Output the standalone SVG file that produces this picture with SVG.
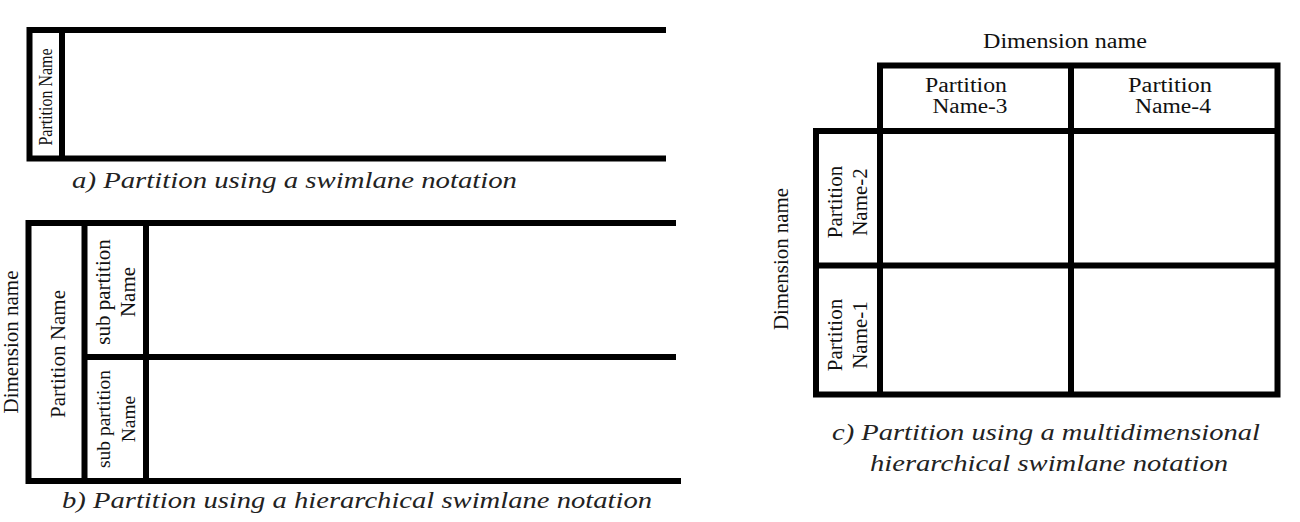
<svg xmlns="http://www.w3.org/2000/svg" width="1300" height="522" viewBox="0 0 1300 522">
<style>
.ln{fill:none;stroke:#000;stroke-width:6;stroke-linejoin:miter;stroke-linecap:butt}
.t{font-family:"Liberation Serif","Times New Roman",serif;fill:#111;text-anchor:middle}
.cap{font-family:"Liberation Serif","Times New Roman",serif;font-style:italic;fill:#222;font-size:24px}
</style>
<rect width="1300" height="522" fill="#fff"/>
<g id="connectors">
  <path class="ln" d="M666,30 H29.5 V158.5 H666"/>
  <path class="ln" d="M62,30 V158.5"/>
  <path class="ln" d="M676,223 H28.5 V481 H681"/>
  <path class="ln" d="M84.5,223 V481"/>
  <path class="ln" d="M146,223 V481"/>
  <path class="ln" d="M84.5,357 H676"/>
  <path class="ln" d="M880,65.5 H1277.5 V394.5 H816 V131 H880 Z"/>
  <path class="ln" d="M880,65.5 V394.5"/>
  <path class="ln" d="M1071,65.5 V394.5"/>
  <path class="ln" d="M816,131 H1277.5"/>
  <path class="ln" d="M816,265.5 H1277.5"/>
</g>
<g id="a-partition">
  <text class="t" font-size="19" textLength="97" lengthAdjust="spacingAndGlyphs" transform="translate(51.5,97) rotate(-90)">Partition Name</text>
</g>
<g id="a-caption">
  <text class="cap" x="72" y="188" textLength="445" lengthAdjust="spacingAndGlyphs">a) Partition using a swimlane notation</text>
</g>
<g id="b-dimension">
  <text class="t" font-size="21" textLength="143" lengthAdjust="spacingAndGlyphs" transform="translate(17.5,342) rotate(-90)">Dimension name</text>
</g>
<g id="b-partition">
  <text class="t" font-size="21" textLength="128" lengthAdjust="spacingAndGlyphs" transform="translate(64.5,354) rotate(-90)">Partition Name</text>
</g>
<g id="b-sub1">
  <text class="t" font-size="21" transform="translate(110,292) rotate(-90)"><tspan x="0" y="0">sub partition</tspan><tspan x="0" y="25">Name</tspan></text>
</g>
<g id="b-sub2">
  <text class="t" font-size="19.5" transform="translate(110,419) rotate(-90)"><tspan x="0" y="0">sub partition</tspan><tspan x="0" y="25">Name</tspan></text>
</g>
<g id="b-caption">
  <text class="cap" x="62" y="508" textLength="590" lengthAdjust="spacingAndGlyphs">b) Partition using a hierarchical swimlane notation</text>
</g>
<g id="c-dimension-top">
  <text class="t" font-size="20" x="1065" y="48" textLength="164" lengthAdjust="spacingAndGlyphs">Dimension name</text>
</g>
<g id="c-dimension-left">
  <text class="t" font-size="21" textLength="142" lengthAdjust="spacingAndGlyphs" transform="translate(788,259) rotate(-90)">Dimension name</text>
</g>
<g id="c-name3">
  <text class="t" font-size="20" x="966" y="91.5" textLength="82" lengthAdjust="spacingAndGlyphs">Partition</text>
  <text class="t" font-size="20" x="970" y="113" textLength="75" lengthAdjust="spacingAndGlyphs">Name-3</text>
</g>
<g id="c-name4">
  <text class="t" font-size="20" x="1170" y="91.5" textLength="84" lengthAdjust="spacingAndGlyphs">Partition</text>
  <text class="t" font-size="20" x="1173" y="113" textLength="76" lengthAdjust="spacingAndGlyphs">Name-4</text>
</g>
<g id="c-name2">
  <text class="t" font-size="21" transform="translate(842,202) rotate(-90)"><tspan x="0" y="0">Partition</tspan><tspan x="0" y="25">Name-2</tspan></text>
</g>
<g id="c-name1">
  <text class="t" font-size="21" transform="translate(842,335) rotate(-90)"><tspan x="0" y="0">Partition</tspan><tspan x="0" y="25">Name-1</tspan></text>
</g>
<g id="c-caption">
  <text class="cap" x="832" y="440" textLength="428" lengthAdjust="spacingAndGlyphs">c) Partition using a multidimensional</text>
  <text class="cap" x="870" y="471" textLength="358" lengthAdjust="spacingAndGlyphs">hierarchical swimlane notation</text>
</g>
</svg>
